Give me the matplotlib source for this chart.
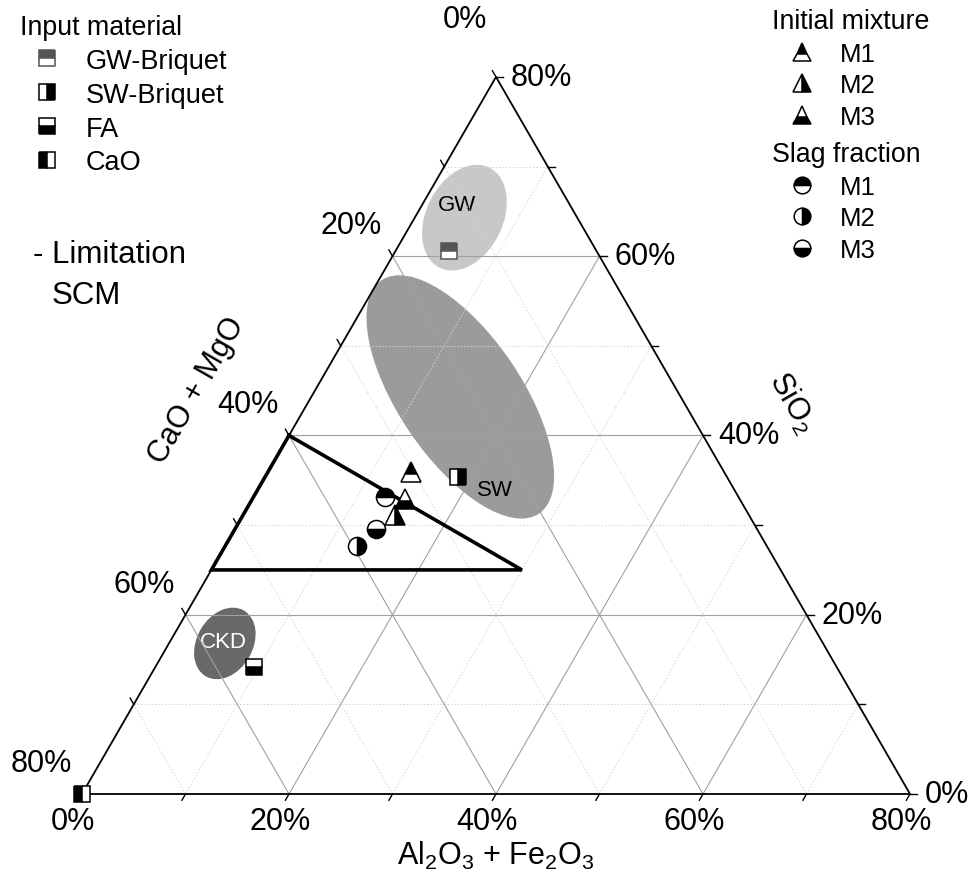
import numpy as np
import matplotlib.pyplot as plt
from matplotlib.lines import Line2D
from matplotlib.patches import Ellipse

plt.rcParams['font.family'] = ['Liberation Sans', 'DejaVu Sans']
plt.rcParams['mathtext.fontset'] = 'custom'
plt.rcParams['mathtext.rm'] = 'Liberation Sans'
plt.rcParams['mathtext.it'] = 'Liberation Sans'

# Werte in % (Al2O3+Fe2O3 = a, SiO2 = s, CaO+MgO = 80 - a - s)
materialien = ['GW-Briquet', 'SW-Briquet', 'FA', 'CaO']
mat_a = [5.2, 18.6, 9.5, 0.0]
mat_s = [60.6, 35.4, 14.2, 0.0]

mischungen = ['M1', 'M2', 'M3']
mix_a = [13.8, 14.7, 14.8]
mix_s = [35.9, 31.1, 32.9]

schlacke_a = [12.7, 12.7, 13.6]
schlacke_s = [33.1, 27.7, 29.6]

# Grenze SCM
grenze_a = [0, 0, 30]
grenze_s = [40, 25, 25]

# Bereiche (Ellipsen)
bereiche = ['GW', 'SW', 'CKD']
bereich_a = [4.8, 14.4, 5.4]
bereich_s = [64.3, 44.3, 16.8]
text_a = [3.3, 22.9, 5.2]
text_s = [65.8, 34.0, 17.0]

ticks = [0, 10, 20, 30, 40, 50, 60, 70, 80]
tick_labels = ['0%', '20%', '40%', '60%', '80%']

S3 = np.sqrt(3) / 2


def to_xy(a, s):
    a = np.asarray(a, float)
    s = np.asarray(s, float)
    return a + s / 2, s * S3


fig = plt.figure(figsize=(9.75, 8.79), dpi=100)
ax = fig.add_axes([0, 0, 1, 1])
ax.set_xlim(-82 / 10.35, (975 - 82) / 10.35)
ax.set_ylim(-(879 - 795) / 10.35, 795 / 10.35)
ax.axis('off')

# Ellipsen
ell_style = [(10.8, 7.4, 63.5, '#c8c8c8', 'black'),
             (27.2, 11.9, 124, '#9b9b9b', 'black'),
             (7.35, 5.4, 60, '#696969', 'white')]
for i, name in enumerate(bereiche):
    w, h, ang, col, tcol = ell_style[i]
    cx, cy = to_xy(bereich_a[i], bereich_s[i])
    ax.add_patch(Ellipse((cx, cy), w, h, angle=ang, facecolor=col, edgecolor='none', zorder=1))
    tx, ty = to_xy(text_a[i], text_s[i])
    ax.text(tx, ty, name, color=tcol, fontsize=16, ha='center', va='center', zorder=2)

# Gitter
for v in ticks[1:-1]:
    if v % 20 == 0:
        kw = dict(color='#a0a0a0', lw=0.8, ls='-', zorder=2)
    else:
        kw = dict(color='#d4d4d4', lw=0.7, ls=(0, (1.5, 2)), zorder=2)
    x, y = to_xy([v, v], [0, 80 - v])
    ax.plot(x, y, **kw)
    x, y = to_xy([0, 80 - v], [v, v])
    ax.plot(x, y, **kw)
    x, y = to_xy([80 - v, 0], [0, 80 - v])
    ax.plot(x, y, **kw)

# Dreieck
x, y = to_xy([0, 80, 0, 0], [0, 0, 80, 0])
ax.plot(x, y, color='black', lw=1.3, zorder=4, solid_joinstyle='miter')

# Ticks und Beschriftungen
tl = 0.7
for v in ticks:
    # unten
    x0, y0 = to_xy(v, 0)
    ax.plot([x0, x0 - 0.5 * tl], [y0, y0 - S3 * tl], color='black', lw=1, zorder=4)
    # rechts (SiO2)
    x1, y1 = to_xy(80 - v, v)
    ax.plot([x1, x1 + tl], [y1, y1], color='black', lw=1, zorder=4)
    # links (CaO + MgO)
    x2, y2 = to_xy(0, 80 - v)
    ax.plot([x2, x2 - 0.5 * tl], [y2, y2 + S3 * tl], color='black', lw=1, zorder=4)
    if v % 20 == 0:
        lab = tick_labels[v // 20]
        ax.text(x0 - 0.87, y0 - 2.6, lab, fontsize=22, ha='center', va='center')
        ax.text(x1 + 1.45, y1, lab, fontsize=22, ha='left', va='center')
        if v == 0:
            ax.text(x2 - 3.0, y2 + 5.6, lab, fontsize=22, ha='center', va='center')
        else:
            ax.text(x2 - 3.96, y2 + 3.0, lab, fontsize=22, ha='center', va='center')

ax.text(40.0, -5.9, r'$\mathregular{Al_2O_3}$ + $\mathregular{Fe_2O_3}$', fontsize=22, ha='center', va='center')
ax.text(11.1, 39.1, 'CaO + MgO', fontsize=22, rotation=60, ha='center', va='center',
        rotation_mode='anchor')
ax.text(68.6, 37.9, r'$\mathregular{SiO_2}$', fontsize=22, rotation=-60, ha='center', va='center',
        rotation_mode='anchor')

# Grenze SCM
x, y = to_xy(grenze_a + grenze_a[:1], grenze_s + grenze_s[:1])
ax.plot(x, y, color='black', lw=2.6, zorder=3, solid_joinstyle='miter')

# Marker
mat_style = [dict(fillstyle='top', markerfacecolor='#555555', markerfacecoloralt='white', markeredgecolor='#555555'),
             dict(fillstyle='right', markerfacecolor='black', markerfacecoloralt='white', markeredgecolor='black'),
             dict(fillstyle='bottom', markerfacecolor='black', markerfacecoloralt='white', markeredgecolor='black'),
             dict(fillstyle='left', markerfacecolor='black', markerfacecoloralt='white', markeredgecolor='black')]
half = ['top', 'right', 'bottom']

mat_handles = []
for i, name in enumerate(materialien):
    x, y = to_xy(mat_a[i], mat_s[i])
    ax.plot(x, y, ls='none', marker='s', ms=11.5, mew=1.1, zorder=6, clip_on=False, **mat_style[i])
    mat_handles.append(Line2D([], [], ls='none', marker='s', ms=11, mew=1.1, **mat_style[i]))

mix_handles = []
slag_handles = []
for i, name in enumerate(mischungen):
    x, y = to_xy(mix_a[i], mix_s[i])
    st = dict(fillstyle=half[i], markerfacecolor='black', markerfacecoloralt='white', markeredgecolor='black')
    ax.plot(x, y, ls='none', marker='^', ms=14, mew=1.1, zorder=6, **st)
    mix_handles.append(Line2D([], [], ls='none', marker='^', ms=13, mew=1.1, **st))
    x, y = to_xy(schlacke_a[i], schlacke_s[i])
    ax.plot(x, y, ls='none', marker='o', ms=13, mew=1.1, zorder=6, **st)
    slag_handles.append(Line2D([], [], ls='none', marker='o', ms=12, mew=1.1, **st))

W, H = 975.0, 879.0
leg_kw = dict(loc='upper left', frameon=False, borderpad=0, borderaxespad=0,
              title_fontsize=19.3, alignment='left')
leg1 = fig.legend(mat_handles, materialien, title='Input material', fontsize=19.5, labelspacing=0.29,
                  bbox_to_anchor=(20 / W, 1 - 15 / H), handlelength=2.0, handletextpad=0.44, **leg_kw)
leg2 = fig.legend(mix_handles, mischungen, title='Initial mixture', fontsize=18.5, labelspacing=0.30,
                  bbox_to_anchor=(772 / W, 1 - 9 / H), handlelength=2.33, handletextpad=0.32, **leg_kw)
leg3 = fig.legend(slag_handles, mischungen, title='Slag fraction', fontsize=18.5, labelspacing=0.30,
                  bbox_to_anchor=(772 / W, 1 - 142 / H), handlelength=2.33, handletextpad=0.32, **leg_kw)

fig.text(33 / W, 1 - 255 / H, '- Limitation', fontsize=22.5, ha='left', va='center')
fig.text(52 / W, 1 - 296 / H, 'SCM', fontsize=22.5, ha='left', va='center')

fig.savefig('out.png', dpi=100)
